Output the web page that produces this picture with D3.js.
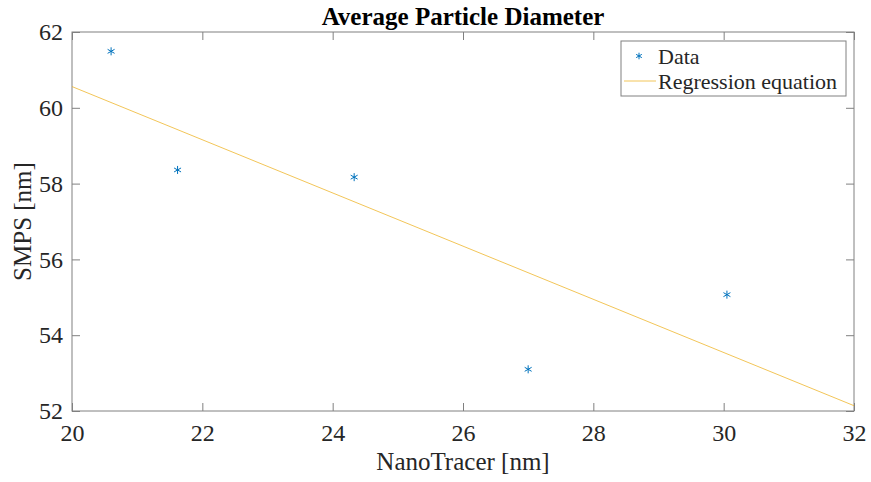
<!DOCTYPE html>
<html>
<head>
<meta charset="utf-8">
<script src="https://cdn.jsdelivr.net/npm/d3@7"></script>
<style>
  body { margin: 0; background: #fff; }
  text { font-family: "Liberation Serif", "Times New Roman", serif; fill: #262626; }
</style>
</head>
<body>
<script>
  // data
  var nanoTracer = [20.60, 21.62, 24.33, 27.00, 30.05];
  var smps       = [61.49, 58.36, 58.17, 53.10, 55.07];
  // regression line ends
  var fitX = [20, 32];
  var fitY = [60.56, 52.14];
  var xTicks = [20, 22, 24, 26, 28, 30, 32];
  var yTicks = [52, 54, 56, 58, 60, 62];

  var w = 871, h = 482;
  var margin = {top: 32, right: 17, bottom: 71, left: 72};
  var innerWidth = w - margin.left - margin.right;
  var innerHeight = h - margin.top - margin.bottom;

  var svg = d3.select("body").append("svg")
      .attr("width", w)
      .attr("height", h);

  var x = d3.scaleLinear().domain([20, 32]).range([0, innerWidth]);
  var y = d3.scaleLinear().domain([52, 62]).range([innerHeight, 0]);

  var g = svg.append("g")
      .attr("transform", `translate(${margin.left}, ${margin.top})`);

  var axisColor = "#808080";

  // box
  g.append("rect")
      .attr("x", 0).attr("y", 0)
      .attr("width", innerWidth).attr("height", innerHeight)
      .attr("fill", "none")
      .attr("stroke", axisColor)
      .attr("stroke-width", 1);

  // axes with inward ticks
  function styleAxis(sel) {
    sel.select(".domain").remove();
    sel.selectAll(".tick line").attr("stroke", axisColor);
    sel.selectAll(".tick text")
        .attr("fill", "#262626")
        .style("font-size", "24px");
  }
  function bareAxis(sel) {
    sel.select(".domain").remove();
    sel.selectAll(".tick text").remove();
    sel.selectAll(".tick line").attr("stroke", axisColor);
  }

  g.append("g")
      .attr("transform", `translate(0, ${innerHeight})`)
      .call(d3.axisBottom(x).tickValues(xTicks).tickSize(-8).tickPadding(13).tickFormat(d3.format("d")))
      .call(styleAxis);

  g.append("g")
      .call(d3.axisTop(x).tickValues(xTicks).tickSize(-8))
      .call(bareAxis);

  g.append("g")
      .call(d3.axisLeft(y).tickValues(yTicks).tickSize(-8).tickPadding(9).tickFormat(d3.format("d")))
      .call(styleAxis);

  g.append("g")
      .attr("transform", `translate(${innerWidth}, 0)`)
      .call(d3.axisRight(y).tickValues(yTicks).tickSize(-8))
      .call(bareAxis);

  // regression line
  var line = d3.line().x(d => x(d[0])).y(d => y(d[1]));
  g.append("path")
      .datum(d3.zip(fitX, fitY))
      .attr("d", line)
      .attr("fill", "none")
      .attr("stroke", "#EDB120")
      .attr("stroke-opacity", 0.75)
      .attr("stroke-width", 1);

  // star markers
  var star = d3.symbol().type(d3.symbolAsterisk).size(45);
  g.selectAll(".pt")
      .data(d3.zip(nanoTracer, smps))
      .enter().append("path")
      .attr("class", "pt")
      .attr("d", star)
      .attr("transform", d => `translate(${x(d[0])}, ${y(d[1])})`)
      .attr("fill", "none")
      .attr("stroke", "#0072BD")
      .attr("stroke-width", 1);

  // title and labels
  svg.append("text")
      .attr("x", margin.left + innerWidth / 2)
      .attr("y", 25)
      .attr("text-anchor", "middle")
      .style("font-size", "25px")
      .style("font-weight", "bold")
      .style("fill", "#000")
      .text("Average Particle Diameter");

  svg.append("text")
      .attr("x", margin.left + innerWidth / 2)
      .attr("y", 470)
      .attr("text-anchor", "middle")
      .style("font-size", "25px")
      .text("NanoTracer [nm]");

  svg.append("text")
      .attr("transform", `translate(31, ${margin.top + innerHeight / 2}) rotate(-90)`)
      .attr("text-anchor", "middle")
      .style("font-size", "25px")
      .text("SMPS [nm]");

  // legend
  var lg = svg.append("g").attr("transform", "translate(621, 41)");
  lg.append("rect")
      .attr("width", 225).attr("height", 55)
      .attr("fill", "#fff")
      .attr("stroke", axisColor)
      .attr("stroke-width", 1);
  lg.append("path")
      .attr("d", d3.symbol().type(d3.symbolAsterisk).size(30))
      .attr("transform", "translate(18, 15)")
      .attr("fill", "none")
      .attr("stroke", "#0072BD");
  lg.append("line")
      .attr("x1", 3).attr("x2", 35)
      .attr("y1", 40).attr("y2", 40)
      .attr("stroke", "#EDB120")
      .attr("stroke-opacity", 0.75);
  lg.append("text").attr("x", 37).attr("y", 23).style("font-size", "22px").text("Data");
  lg.append("text").attr("x", 37).attr("y", 48).style("font-size", "22px").text("Regression equation");
</script>
</body>
</html>
